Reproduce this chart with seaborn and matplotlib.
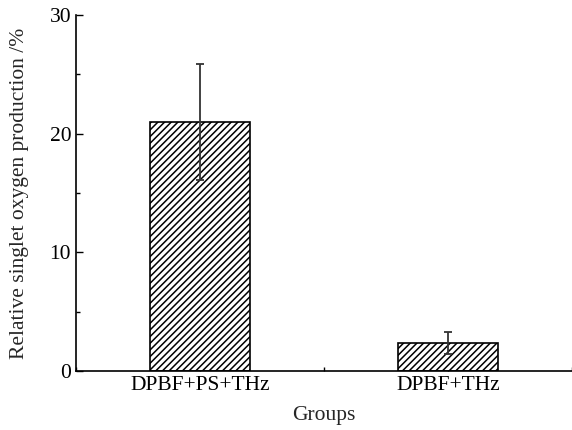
import matplotlib
matplotlib.use("Agg")
import matplotlib.pyplot as plt
import seaborn as sns
import pandas as pd
from matplotlib.ticker import MultipleLocator

groups = ["DPBF+PS+THz", "DPBF+THz"]
values = [21.0, 2.35]
errors = [4.9, 0.95]

sns.set_theme(style="ticks")
plt.rcParams['font.family'] = ['Liberation Serif', 'DejaVu Serif']
plt.rcParams['hatch.linewidth'] = 1.1

df = pd.DataFrame({"Groups": groups, "value": values})

fig = plt.figure(figsize=(5.72, 4.30), dpi=100)
ax = fig.add_axes([0.1329, 0.1372, 0.8671, 0.8279])

sns.barplot(data=df, x="Groups", y="value", ax=ax, color="white",
            edgecolor="black", linewidth=1.2, width=0.4, errorbar=None)
for p in ax.patches:
    p.set_hatch("/////")
    p.set_edgecolor("black")

ax.errorbar(x=list(range(len(groups))), y=values, yerr=errors, fmt="none",
            ecolor="#333333", elinewidth=1.3, capsize=3.2, capthick=1.3)

ax.set_xlim(-0.5, 1.5)
ax.set_ylim(0, 30)
ax.yaxis.set_major_locator(MultipleLocator(10))
ax.yaxis.set_minor_locator(MultipleLocator(5))
ax.xaxis.set_minor_locator(MultipleLocator(0.5))
ax.tick_params(axis="both", which="both", direction="in", labelsize=15.5, colors="black")
ax.tick_params(axis="y", which="major", length=5, width=1)
ax.tick_params(axis="y", which="minor", length=3, width=1)
ax.tick_params(axis="x", which="major", length=3, width=1)
ax.tick_params(axis="x", which="minor", length=3, width=1)
ax.tick_params(axis="x", which="both", top=False)

for s in ["top", "right"]:
    ax.spines[s].set_visible(False)
for s in ["left", "bottom"]:
    ax.spines[s].set_color("black")
    ax.spines[s].set_linewidth(1.2)

ax.set_xlabel("Groups", fontsize=15.5, labelpad=8)
ax.set_ylabel("Relative singlet oxygen production /%", fontsize=15.5, labelpad=15)

fig.savefig("out.png", dpi=100)
